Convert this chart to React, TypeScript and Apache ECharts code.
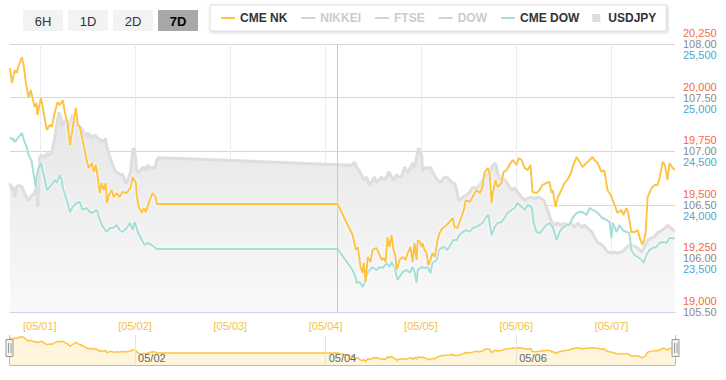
import React, { useEffect, useRef } from 'react';
import * as echarts from 'echarts';

// ---- x axis (hours from 05/01 00:00) ----
const X_MIN = -7.5;
const X_MAX = 160;
const DAY_HOURS = [0, 24, 48, 72, 96, 120, 144];
const DAY_LABELS = ['[05/01]', '[05/02]', '[05/03]', '[05/04]', '[05/05]', '[05/06]', '[05/07]'];
const NAV_HOURS = [24, 72, 120];
const NAV_LABELS = ['05/02', '05/04', '05/06'];
const MARK_HOUR = 75;

// ---- y axes ----
const NK_MIN = 19000, NK_MAX = 20250, NK_STEP = 250;
const JPY_MIN = 105.5, JPY_MAX = 108, JPY_STEP = 0.5;
const DOW_MIN = 23000, DOW_MAX = 25500, DOW_STEP = 500;

const RANGE_BUTTONS = ['6H', '1D', '2D', '7D'];
const ACTIVE_BUTTON = '7D';
const LEGEND_NAMES = ['CME NK', 'NIKKEI', 'FTSE', 'DOW', 'CME DOW', 'USDJPY'];
const HIDDEN_SERIES = ['NIKKEI', 'FTSE', 'DOW'];
const WATERMARK = 'https://nikkei225jp.com/cme/';

// ---- series: [hour, value] ----
const CME_NK: [number, number][] = [
  [-7.5, 20138], [-7.0, 20068], [-6.3, 20129], [-5.8, 20115], [-5.5, 20138], [-4.5, 20189], [-4.0, 20143],
  [-3.5, 20068], [-3.3, 20049], [-2.8, 19998], [-2.3, 20035], [-2.0, 20012], [-1.3, 19956], [-0.8, 19975],
  [-0.6, 19919], [0.3, 19998], [0.5, 19979], [1.3, 19896], [1.8, 19849], [2.5, 19872], [3.0, 19863],
  [3.8, 19933], [4.5, 19979], [5.0, 19965], [5.8, 19989], [6.3, 19933], [7.0, 19882], [7.6, 19779],
  [8.1, 19835], [8.6, 19896], [9.1, 19952], [9.6, 19872], [10.1, 19863], [10.8, 19802], [11.3, 19756],
  [11.8, 19709], [12.3, 19672], [13.1, 19695], [13.6, 19653], [14.1, 19686], [14.6, 19630], [15.1, 19555],
  [15.6, 19602], [16.1, 19569], [16.6, 19602], [16.9, 19508], [17.4, 19546], [18.1, 19569], [18.6, 19536],
  [19.4, 19555], [20.1, 19536], [20.9, 19560], [21.9, 19555], [22.9, 19583], [23.4, 19630], [24.2, 19602],
  [24.4, 19546], [24.9, 19490], [25.7, 19462], [26.2, 19485], [26.7, 19466], [27.7, 19522], [28.4, 19555],
  [29.2, 19536], [29.5, 19504], [75.0, 19504], [78.8, 19359], [79.6, 19289], [80.1, 19303], [80.8, 19210],
  [81.3, 19182], [81.6, 19229], [82.1, 19140], [82.6, 19257], [83.3, 19233], [83.8, 19289], [84.8, 19299],
  [85.4, 19275], [86.1, 19243], [86.6, 19252], [87.1, 19233], [87.6, 19350], [88.1, 19303], [88.6, 19359],
  [89.1, 19289], [89.6, 19257], [89.9, 19196], [90.6, 19243], [91.4, 19257], [92.1, 19243], [92.7, 19275],
  [93.4, 19303], [93.9, 19233], [94.4, 19322], [94.9, 19243], [95.2, 19336], [95.7, 19327], [96.2, 19303],
  [96.4, 19322], [96.9, 19289], [97.4, 19275], [97.9, 19219], [98.4, 19243], [98.9, 19275], [99.5, 19257],
  [100.2, 19336], [100.7, 19369], [101.5, 19392], [102.5, 19406], [103.2, 19420], [104.0, 19438],
  [104.5, 19396], [105.2, 19392], [106.2, 19443], [106.8, 19476], [107.3, 19522], [108.3, 19513],
  [109.0, 19536], [110.0, 19569], [110.8, 19555], [111.5, 19583], [112.0, 19648], [112.8, 19672],
  [113.3, 19648], [113.8, 19508], [114.1, 19555], [114.8, 19616], [115.3, 19583], [116.3, 19602],
  [116.8, 19653], [117.6, 19662], [118.3, 19686], [118.8, 19700], [119.1, 19709], [120.1, 19686],
  [120.6, 19718], [121.4, 19709], [122.1, 19672], [122.9, 19662], [123.6, 19686], [124.1, 19560],
  [125.1, 19555], [125.9, 19569], [126.6, 19592], [127.6, 19602], [128.4, 19606], [128.9, 19555],
  [129.2, 19569], [129.9, 19490], [130.4, 19532], [131.4, 19569], [132.2, 19602], [132.9, 19616],
  [133.9, 19653], [134.2, 19676], [134.7, 19700], [135.2, 19723], [136.0, 19700], [136.7, 19676],
  [137.7, 19695], [138.5, 19709], [139.2, 19723], [139.7, 19709], [140.5, 19695], [141.5, 19653],
  [142.2, 19662], [143.0, 19569], [143.8, 19546], [144.3, 19522], [145.0, 19490], [145.5, 19462],
  [146.5, 19476], [147.0, 19452], [147.8, 19485], [148.3, 19452], [149.0, 19373], [149.8, 19373],
  [150.6, 19382], [151.3, 19336], [151.8, 19313], [152.1, 19327], [152.6, 19369], [153.1, 19536],
  [154.1, 19578], [154.8, 19592], [155.6, 19592], [156.1, 19625], [156.9, 19700], [157.4, 19686],
  [158.1, 19616], [158.6, 19695], [159.4, 19672], [159.9, 19662],
];

const CME_DOW: [number, number][] = [
  [-7.5, 24632], [-7.0, 24604], [-6.8, 24623], [-6.3, 24586], [-5.5, 24623], [-4.5, 24670], [-4.0, 24604],
  [-3.3, 24539], [-2.8, 24465], [-2.0, 24399], [-1.8, 24343], [-1.0, 24166], [-0.8, 24259], [-0.3, 24343],
  [0.3, 24390], [0.8, 24306], [1.3, 24231], [1.8, 24138], [2.5, 24166], [3.3, 24203], [3.8, 24231],
  [4.3, 24203], [5.0, 24278], [5.5, 24231], [5.8, 24157], [6.8, 24045], [7.6, 23933], [8.3, 23980],
  [9.3, 24017], [10.1, 24026], [10.8, 23952], [11.8, 23970], [12.6, 23933], [13.3, 23924], [14.4, 23952],
  [15.1, 23858], [15.9, 23793], [16.9, 23746], [17.6, 23784], [18.4, 23784], [19.4, 23812], [20.1, 23765],
  [20.9, 23746], [21.9, 23784], [22.7, 23830], [23.4, 23765], [23.9, 23840], [24.7, 23746], [25.7, 23672],
  [26.4, 23625], [27.2, 23644], [28.2, 23625], [29.5, 23588], [75.0, 23588], [78.8, 23392], [79.6, 23317],
  [79.8, 23271], [80.6, 23280], [81.3, 23233], [81.8, 23271], [82.3, 23345], [83.1, 23392], [83.8, 23420],
  [84.8, 23392], [85.6, 23420], [86.4, 23411], [87.4, 23457], [88.1, 23420], [88.6, 23467], [89.4, 23411],
  [90.1, 23299], [90.9, 23345], [91.4, 23373], [92.4, 23392], [93.2, 23364], [93.9, 23420], [94.4, 23373],
  [94.9, 23271], [95.2, 23392], [96.2, 23420], [96.9, 23411], [97.7, 23420], [98.4, 23364], [98.9, 23457],
  [100.0, 23485], [100.5, 23578], [101.2, 23597], [102.0, 23606], [102.5, 23578], [103.2, 23606],
  [103.7, 23644], [104.2, 23672], [105.0, 23672], [105.7, 23718], [106.5, 23746], [107.5, 23765],
  [108.3, 23746], [109.0, 23784], [110.0, 23793], [110.8, 23812], [111.5, 23830], [112.5, 23886],
  [113.0, 23905], [113.8, 23718], [114.6, 23793], [115.3, 23830], [116.3, 23840], [117.1, 23877],
  [117.8, 23924], [118.8, 23952], [119.6, 23970], [120.3, 24017], [121.4, 23980], [122.1, 23952],
  [122.9, 23998], [123.9, 23980], [124.4, 23830], [125.1, 23746], [125.9, 23737], [126.6, 23765],
  [127.6, 23812], [128.4, 23830], [129.2, 23793], [130.2, 23672], [130.9, 23746], [131.7, 23784],
  [132.7, 23812], [133.4, 23812], [134.2, 23877], [135.2, 23924], [136.0, 23933], [136.7, 23933],
  [137.7, 23905], [138.5, 23970], [139.2, 23952], [140.2, 23933], [141.0, 23905], [141.7, 23877],
  [142.8, 23858], [143.5, 23840], [144.0, 23690], [144.3, 23830], [145.3, 23746], [146.0, 23812],
  [146.8, 23765], [147.8, 23746], [148.5, 23737], [149.0, 23578], [149.8, 23532], [150.6, 23513],
  [151.6, 23485], [152.1, 23457], [152.8, 23532], [153.6, 23578], [154.3, 23597], [155.3, 23606],
  [156.1, 23644], [156.9, 23653], [157.9, 23644], [158.6, 23690], [159.4, 23690], [159.9, 23681],
];

const USDJPY: [number, number][] = [
  [-7.5, 106.70], [-7.0, 106.64], [-6.8, 106.67], [-6.3, 106.57], [-5.8, 106.67], [-5.3, 106.68],
  [-4.5, 106.67], [-4.0, 106.62], [-3.3, 106.57], [-2.8, 106.54], [-2.0, 106.59], [-1.3, 106.61],
  [-0.8, 106.67], [-0.5, 106.48], [0.0, 106.95], [0.8, 106.96], [1.3, 106.94], [1.8, 106.98], [2.3, 106.96],
  [3.0, 106.99], [3.3, 107.04], [3.8, 107.13], [4.3, 107.26], [4.8, 107.36], [5.3, 107.32], [5.5, 107.23],
  [5.8, 107.24], [6.3, 107.29], [6.8, 107.26], [7.6, 107.27], [8.3, 107.34], [8.8, 107.29], [9.3, 107.24],
  [10.1, 107.23], [10.8, 107.20], [11.6, 107.13], [12.1, 107.17], [13.1, 107.13], [13.9, 107.15],
  [14.6, 107.12], [15.6, 107.10], [16.1, 107.09], [16.6, 107.12], [16.9, 107.04], [17.6, 106.95],
  [18.4, 106.87], [19.1, 106.81], [19.6, 106.80], [20.4, 106.78], [20.9, 106.78], [21.7, 106.70],
  [22.2, 106.73], [22.9, 106.81], [23.4, 107.01], [23.7, 107.03], [24.2, 106.92], [24.4, 106.82],
  [24.9, 106.80], [25.7, 106.84], [26.2, 106.85], [26.9, 106.82], [27.2, 106.87], [27.9, 106.84],
  [28.5, 106.85], [29.0, 106.84], [29.5, 106.92], [30.0, 106.94], [50.4, 106.91], [78.6, 106.87],
  [79.3, 106.90], [79.8, 106.85], [80.6, 106.81], [81.3, 106.76], [81.8, 106.73], [82.3, 106.76],
  [83.1, 106.68], [83.8, 106.73], [84.3, 106.76], [84.8, 106.71], [85.4, 106.73], [86.1, 106.76],
  [86.6, 106.73], [87.4, 106.76], [87.9, 106.81], [88.6, 106.76], [89.1, 106.73], [89.9, 106.78],
  [90.4, 106.76], [91.1, 106.76], [91.9, 106.85], [92.4, 106.82], [92.7, 106.80], [93.4, 106.85],
  [93.9, 106.89], [94.4, 106.85], [94.9, 106.94], [95.4, 107.03], [96.2, 106.96], [96.4, 106.82],
  [97.2, 106.85], [97.7, 106.84], [98.4, 106.85], [98.9, 106.81], [99.7, 106.76], [100.2, 106.73],
  [101.0, 106.71], [101.7, 106.75], [102.5, 106.76], [103.2, 106.73], [104.0, 106.70], [104.5, 106.70],
  [105.0, 106.64], [105.5, 106.54], [106.5, 106.57], [107.5, 106.59], [108.3, 106.62], [109.0, 106.66],
  [110.0, 106.66], [110.8, 106.68], [111.5, 106.73], [112.5, 106.78], [113.3, 106.80], [114.1, 106.87],
  [114.8, 106.89], [115.3, 106.80], [116.1, 106.73], [116.6, 106.75], [117.6, 106.71], [118.3, 106.66],
  [119.1, 106.64], [119.6, 106.66], [120.3, 106.62], [121.4, 106.57], [122.1, 106.54], [122.9, 106.56],
  [123.9, 106.57], [124.6, 106.56], [125.4, 106.57], [126.4, 106.56], [127.1, 106.53], [127.9, 106.45],
  [128.9, 106.34], [129.7, 106.31], [130.4, 106.33], [131.4, 106.31], [132.2, 106.33], [132.9, 106.31],
  [133.9, 106.33], [134.7, 106.29], [135.5, 106.33], [136.5, 106.29], [137.2, 106.31], [138.0, 106.28],
  [139.0, 106.25], [139.7, 106.20], [140.5, 106.15], [141.5, 106.13], [142.2, 106.10], [143.0, 106.06],
  [144.0, 106.05], [144.8, 106.06], [145.5, 106.05], [146.5, 106.06], [147.3, 106.08], [148.0, 106.11],
  [149.0, 106.13], [149.8, 106.11], [150.6, 106.10], [151.6, 106.06], [152.3, 106.11], [153.1, 106.17],
  [154.1, 106.19], [154.8, 106.20], [155.6, 106.24], [156.6, 106.26], [157.4, 106.28], [158.1, 106.31],
  [159.1, 106.28], [159.9, 106.25],
];

const GOLD = '#fdc43e';
const TEAL = '#a5ddd8';
const RED = '#f26a45';
const BLUE = '#4ba8d6';
const GRAY_LABEL = '#8a8a8a';
const FONT = 'Arial, "Liberation Sans", sans-serif';

const fmtThousands = (v: number) => Math.round(v).toString().replace(/\B(?=(\d{3})+(?!\d))/g, ',');

export default function App() {
  const ref = useRef<HTMLDivElement>(null);
  useEffect(() => {
    if (!ref.current) return;
    const chart = echarts.init(ref.current, null, { renderer: 'svg' });

    const buttons: any[] = [];
    RANGE_BUTTONS.forEach((b, i) => {
      const active = b === ACTIVE_BUTTON;
      buttons.push({
        type: 'rect', left: 23 + i * 45, top: 10,
        shape: { width: 40, height: 21, r: 0 },
        style: { fill: active ? '#a8a8a8' : '#f3f3f3' },
        z: 10,
      });
      buttons.push({
        type: 'text', x: 43 + i * 45, y: 21,
        style: {
          text: b, fill: active ? '#000' : '#333', fontSize: 13, fontFamily: FONT,
          fontWeight: active ? 'bold' : 'normal', align: 'center', verticalAlign: 'middle',
        },
        z: 11,
      });
    });

    const handle = (cx: number) => [
      { type: 'rect', shape: { x: cx - 3.5, y: 339.5, width: 7, height: 17 }, style: { fill: '#f2f2f2', stroke: '#999', lineWidth: 1 }, z: 20 },
      { type: 'line', shape: { x1: cx - 1, y1: 343, x2: cx - 1, y2: 353 }, style: { stroke: '#999', lineWidth: 1 }, z: 21 },
      { type: 'line', shape: { x1: cx + 1.5, y1: 343, x2: cx + 1.5, y2: 353 }, style: { stroke: '#999', lineWidth: 1 }, z: 21 },
    ];

    const option: any = {
      animation: false,
      textStyle: { fontFamily: FONT },
      legend: {
        data: LEGEND_NAMES.map((n) =>
          n === 'USDJPY'
            ? { name: n, icon: 'path://M0,0L10,0L10,10L0,10Z', itemStyle: { opacity: 1, color: '#dcdcdc' } }
            : { name: n }
        ),
        selected: Object.fromEntries(HIDDEN_SERIES.map((n) => [n, false])),
        left: 210, top: 5,
        padding: [7, 10],
        itemWidth: 14, itemHeight: 8, itemGap: 13,
        itemStyle: { opacity: 0 },
        backgroundColor: '#fff', borderColor: '#ddd', borderWidth: 1,
        shadowColor: 'rgba(0,0,0,0.18)', shadowBlur: 3, shadowOffsetX: 1, shadowOffsetY: 1,
        textStyle: { color: '#333', fontWeight: 'bold', fontSize: 12, fontFamily: FONT },
        inactiveColor: '#ccc',
      },
      grid: [
        { left: 10, right: 51, top: 44, height: 268 },
        { left: 10, right: 51, top: 335, height: 30 },
      ],
      xAxis: [
        {
          type: 'value', gridIndex: 0, min: X_MIN, max: X_MAX,
          axisLine: { show: true, lineStyle: { color: '#ccd6eb' } },
          axisTick: { show: false, customValues: DAY_HOURS },
          axisLabel: {
            customValues: DAY_HOURS, color: '#f2c24a', fontSize: 11, margin: 8,
            formatter: (v: number) => DAY_LABELS[DAY_HOURS.indexOf(Math.round(v))] ?? '',
          },
          splitLine: { show: true, lineStyle: { color: '#ececec' } },
        },
        {
          type: 'value', gridIndex: 1, min: X_MIN, max: X_MAX, z: 5,
          axisLine: { show: true, lineStyle: { color: '#bbb' } },
          axisTick: { show: false, customValues: NAV_HOURS },
          axisLabel: {
            customValues: NAV_HOURS, inside: true, color: '#666', fontSize: 11, margin: 2,
            align: 'left',
            formatter: (v: number) => ' ' + (NAV_LABELS[NAV_HOURS.indexOf(Math.round(v))] ?? ''),
          },
          splitLine: { show: true, lineStyle: { color: '#e3e3e3' } },
        },
      ],
      yAxis: [
        {
          type: 'value', gridIndex: 0, position: 'right', min: JPY_MIN, max: JPY_MAX, interval: JPY_STEP,
          axisLine: { show: false }, axisTick: { show: false },
          axisLabel: { color: GRAY_LABEL, fontSize: 11, margin: 8, formatter: (v: number) => v.toFixed(2) },
          splitLine: { show: true, lineStyle: { color: '#d6d6d6' } },
        },
        {
          type: 'value', gridIndex: 0, position: 'right', min: NK_MIN, max: NK_MAX, interval: NK_STEP,
          axisLine: { show: false }, axisTick: { show: false },
          axisLabel: { color: RED, fontSize: 11, margin: 8, verticalAlign: 'bottom', lineHeight: 22, formatter: fmtThousands },
          splitLine: { show: false },
        },
        {
          type: 'value', gridIndex: 0, position: 'right', min: DOW_MIN, max: DOW_MAX, interval: DOW_STEP,
          axisLine: { show: false }, axisTick: { show: false },
          axisLabel: { color: BLUE, fontSize: 11, margin: 8, verticalAlign: 'top', lineHeight: 22, showMinLabel: false, formatter: fmtThousands },
          splitLine: { show: false },
        },
        {
          type: 'value', gridIndex: 1, min: NK_MIN, max: NK_MAX, show: false,
        },
      ],
      series: [
        {
          name: 'CME NK', type: 'line', xAxisIndex: 0, yAxisIndex: 1, data: CME_NK, symbol: 'none',
          color: GOLD,
          lineStyle: { color: GOLD, width: 2, shadowColor: 'rgba(255,255,255,0.9)', shadowBlur: 3 },
          z: 5,
          markLine: {
            silent: true, symbol: ['none', 'none'], label: { show: false },
            lineStyle: { color: '#c8c8c8', type: 'solid', width: 1 },
            data: [{ xAxis: MARK_HOUR }],
          },
        },
        { name: 'NIKKEI', type: 'line', xAxisIndex: 0, yAxisIndex: 1, data: [], symbol: 'none', color: '#bbb', lineStyle: { width: 2 } },
        { name: 'FTSE', type: 'line', xAxisIndex: 0, yAxisIndex: 1, data: [], symbol: 'none', color: '#bbb', lineStyle: { width: 2 } },
        { name: 'DOW', type: 'line', xAxisIndex: 0, yAxisIndex: 2, data: [], symbol: 'none', color: '#bbb', lineStyle: { width: 2 } },
        {
          name: 'CME DOW', type: 'line', xAxisIndex: 0, yAxisIndex: 2, data: CME_DOW, symbol: 'none',
          color: TEAL,
          lineStyle: { color: TEAL, width: 2, shadowColor: 'rgba(255,255,255,0.9)', shadowBlur: 3 },
          z: 4,
        },
        {
          name: 'USDJPY', type: 'line', xAxisIndex: 0, yAxisIndex: 0, data: USDJPY, symbol: 'none',
          color: '#dcdcdc',
          lineStyle: { color: '#dedede', width: 3 },
          areaStyle: {
            color: new echarts.graphic.LinearGradient(0, 0, 0, 1, [
              { offset: 0, color: '#e6e6e6' },
              { offset: 1, color: '#f9f9f9' },
            ]),
            opacity: 1,
          },
          z: 2,
        },
        {
          name: 'nav', type: 'line', xAxisIndex: 1, yAxisIndex: 3, data: CME_NK, symbol: 'none',
          lineStyle: { color: GOLD, width: 1.5 },
          areaStyle: { color: '#fff4dc', opacity: 1 },
          z: 1,
        },
      ],
      graphic: [
        ...buttons,
        {
          type: 'text', left: 22, top: 292, z: 1,
          style: { text: WATERMARK, fill: '#e0e0e0', fontSize: 12, fontFamily: FONT },
        },
        { type: 'line', shape: { x1: 9.5, y1: 335, x2: 9.5, y2: 365 }, style: { stroke: '#bbb', lineWidth: 1 }, z: 15 },
        { type: 'line', shape: { x1: 675.5, y1: 335, x2: 675.5, y2: 365 }, style: { stroke: '#bbb', lineWidth: 1 }, z: 15 },
        ...handle(9.5),
        ...handle(675.5),
      ],
    };

    chart.setOption(option);
    return () => chart.dispose();
  }, []);

  return (
    <div
      ref={ref}
      style={{ position: 'fixed', left: 0, top: 0, width: 726, height: 380, background: '#fff' }}
    />
  );
}
